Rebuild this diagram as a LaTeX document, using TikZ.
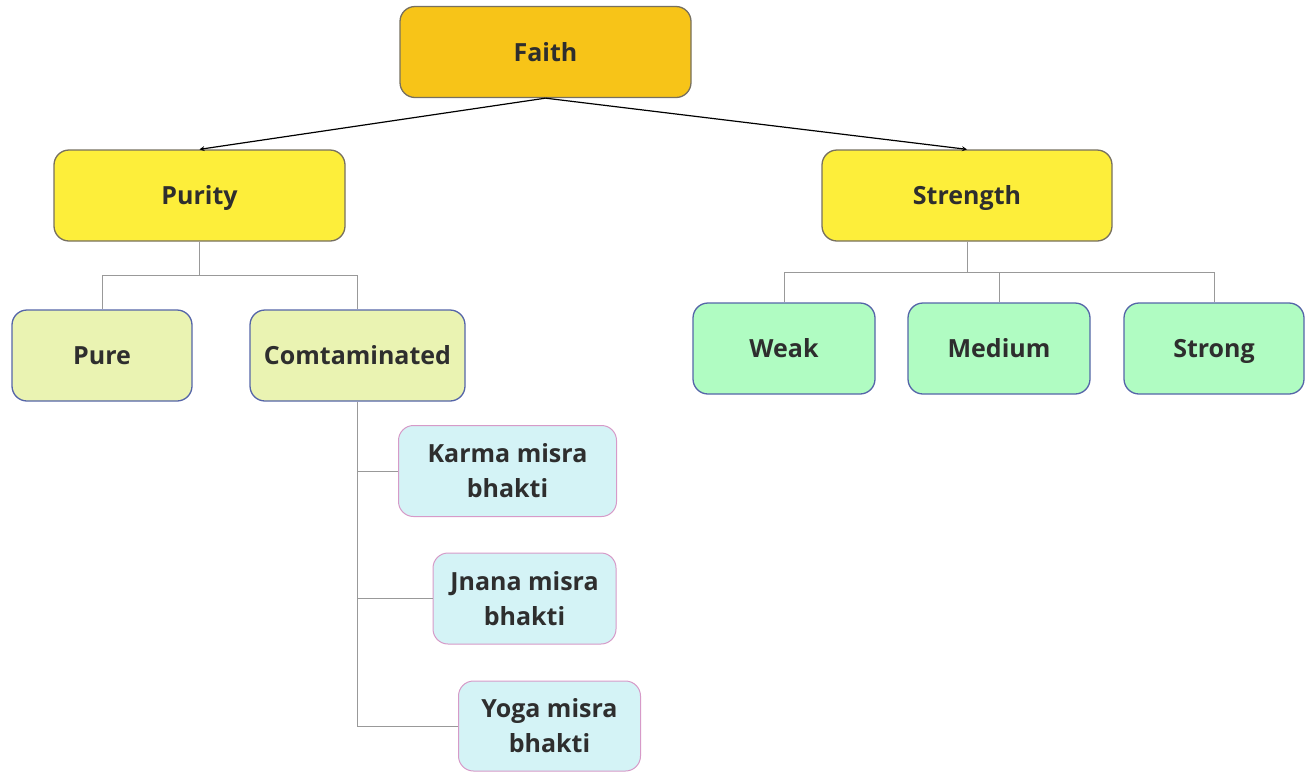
\documentclass[tikz,border=0pt]{standalone}
\usepackage{fontspec}
\setmainfont{Open Sans}
\usepackage{tikz}

\definecolor{faithfill}{HTML}{F7C418}
\definecolor{mainfill}{HTML}{FDEE3A}
\definecolor{purefill}{HTML}{EAF3B2}
\definecolor{strengthfill}{HTML}{B0FCC2}
\definecolor{mixfill}{HTML}{D4F3F6}
\definecolor{greyedge}{HTML}{77705F}
\definecolor{blueedge}{HTML}{5565A8}
\definecolor{pinkedge}{HTML}{D69AC8}
\definecolor{textgrey}{HTML}{2E2E2E}

\tikzset{
    box/.style={rounded corners=15pt, line width=1.3pt, align=center,
        inner sep=0pt, minimum height=91pt, text=textgrey,
        font=\fontsize{25}{35}\selectfont\bfseries},
    onebox/.style={box, text height=18pt, text depth=0pt},
    faithbox/.style={onebox, fill=faithfill, draw=greyedge},
    mainbox/.style={onebox, fill=mainfill, draw=greyedge},
    purebox/.style={onebox, fill=purefill, draw=blueedge},
    levelbox/.style={onebox, fill=strengthfill, draw=blueedge},
    mixbox/.style={box, fill=mixfill, draw=pinkedge, line width=1pt},
    tree/.style={draw=gray!80, line width=0.8pt},
    arr/.style={->, >=stealth, line width=1.2pt, black}
}

\begin{document}
\begin{tikzpicture}[x=1pt, y=1pt]
        \useasboundingbox (0,0) rectangle (1305,-772);

        % Draw the top node
        \node[faithbox, minimum width=291pt] (faith) at (545.5,-52) {Faith};

        % Draw the two main branches
        \node[mainbox, minimum width=291pt] (purity) at (199.5,-195.5) {Purity};
        \node[mainbox, minimum width=290pt] (strength) at (967,-195.5) {Strength};

        % Kinds of purity
        \node[purebox, minimum width=180pt] (pure) at (102,-355.5) {Pure};
        \node[purebox, minimum width=215pt] (comt) at (357.5,-355.5) {Comtaminated};

        % Kinds of strength
        \node[levelbox, minimum width=182pt] (weak) at (784,-348.5) {Weak};
        \node[levelbox, minimum width=182pt] (medium) at (999,-348.5) {Medium};
        \node[levelbox, minimum width=180pt] (strong) at (1214,-348.5) {Strong};

        % Kinds of mixed bhakti
        \node[mixbox, minimum width=218pt] (karma) at (507.5,-471) {Karma misra\\bhakti};
        \node[mixbox, minimum width=183pt] (jnana) at (524.5,-598.5) {Jnana misra\\bhakti};
        \node[mixbox, minimum width=182pt, minimum height=90pt] (yoga) at (549.5,-726) {Yoga misra\\bhakti};

        % Draw the arrows from the top node
        \draw[arr] (faith.south) -- (purity.north);
        \draw[arr] (faith.south) -- (strength.north);

        % Draw the tree lines
        \draw[tree] (purity.south) -- ++(0,-34) coordinate (pj);
        \draw[tree] (pj) -| (pure.north);
        \draw[tree] (pj) -| (comt.north);

        \draw[tree] (strength.south) -- ++(0,-31) coordinate (sj);
        \draw[tree] (sj) -| (weak.north);
        \draw[tree] (sj) -| (medium.north);
        \draw[tree] (sj) -| (strong.north);

        \foreach \m in {karma,jnana,yoga} {
            \draw[tree] (comt.south) |- (\m.west);
        }
    \end{tikzpicture}
\end{document}
